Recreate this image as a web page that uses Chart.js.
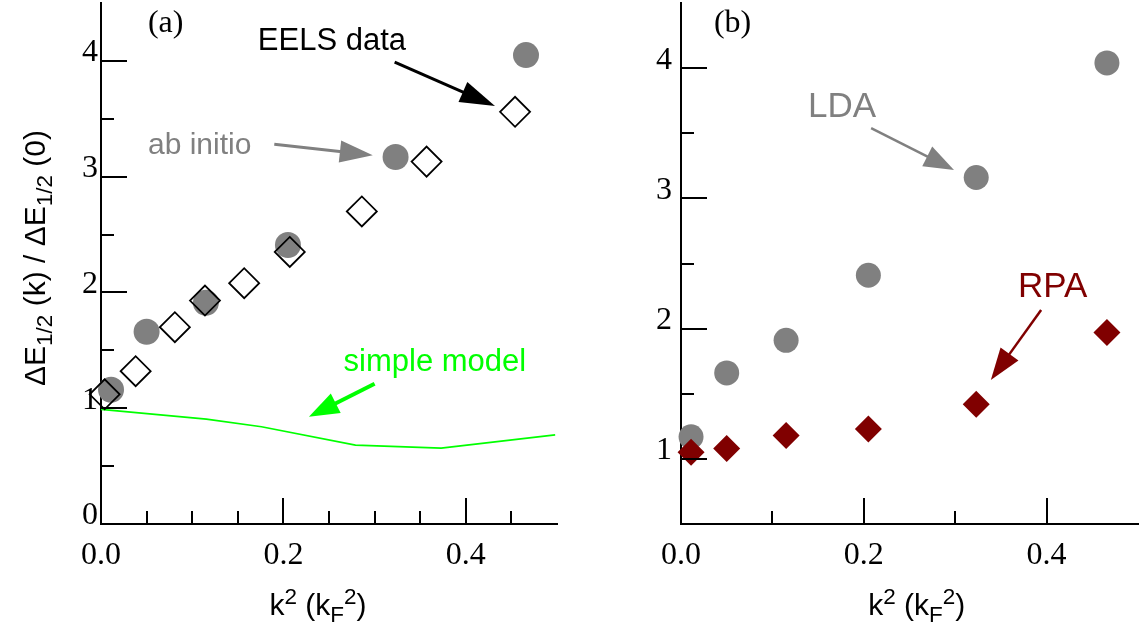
<!DOCTYPE html>
<html><head><meta charset="utf-8">
<script src="https://cdn.jsdelivr.net/npm/chart.js@4.4.1/dist/chart.umd.min.js"></script>
<style>
html,body{margin:0;padding:0;background:#fff;width:1143px;height:626px;overflow:hidden}
canvas{position:absolute;top:0}
#ca{left:0}
#cb{left:620px}
</style></head><body>
<canvas id="ca" width="620" height="626"></canvas>
<canvas id="cb" width="523" height="626"></canvas>
<script>
// ---- data ----
const kSqEels = [0.004, 0.038, 0.081, 0.114, 0.157, 0.207, 0.286, 0.357, 0.454];
const ratioEels = [1.12, 1.32, 1.70, 1.93, 2.08, 2.35, 2.70, 3.13, 3.56];
const kSqTheory = [0.011, 0.050, 0.115, 0.205, 0.323, 0.466];
const ratioAbInitio = [1.16, 1.66, 1.91, 2.41, 3.17, 4.05];
const ratioLDA = [1.17, 1.66, 1.91, 2.41, 3.16, 4.04];
const ratioRPA = [1.05, 1.08, 1.18, 1.23, 1.42, 1.97];
const kSqModel = [0, 0.1155, 0.176, 0.279, 0.373, 0.498];
const ratioModel = [0.99, 0.906, 0.84, 0.681, 0.655, 0.77];
const xTickValues = [0, 0.2, 0.4];
const yTickValuesA = [0, 1, 2, 3, 4];
const yTickValuesB = [1, 2, 3, 4];

const GRAY = '#808080', DRED = '#800000', GREEN = '#00ff00';
const SANS = '"Liberation Sans", Arial, sans-serif';
const SERIF = '"Liberation Serif", "Times New Roman", serif';

function pts(xs, ys) { return xs.map((x, i) => ({x: x, y: ys[i]})); }

function line(ctx, x1, y1, x2, y2) { ctx.beginPath(); ctx.moveTo(x1, y1); ctx.lineTo(x2, y2); ctx.stroke(); }

function arrow(ctx, x1, y1, x2, y2, color, lw, hl, hw) {
  const a = Math.atan2(y2 - y1, x2 - x1);
  const bx = x2 - hl * Math.cos(a), by = y2 - hl * Math.sin(a);
  ctx.strokeStyle = color; ctx.lineWidth = lw; ctx.lineCap = 'butt';
  line(ctx, x1, y1, bx + 2 * Math.cos(a), by + 2 * Math.sin(a));
  ctx.fillStyle = color;
  ctx.beginPath();
  ctx.moveTo(x2, y2);
  ctx.lineTo(bx + hw / 2 * Math.sin(a), by - hw / 2 * Math.cos(a));
  ctx.lineTo(bx - hw / 2 * Math.sin(a), by + hw / 2 * Math.cos(a));
  ctx.closePath(); ctx.fill();
}

function drawRich(ctx, segs, x, y, size, fam, align, color) {
  const small = size * 0.75;
  let total = 0;
  const ws = segs.map(s => { ctx.font = ((s.sub || s.sup) ? small : size) + 'px ' + fam; const w = ctx.measureText(s.t).width; total += w; return w; });
  let cx = align === 'center' ? x - total / 2 : x;
  ctx.fillStyle = color; ctx.textBaseline = 'alphabetic'; ctx.textAlign = 'left';
  segs.forEach((s, i) => {
    ctx.font = ((s.sub || s.sup) ? small : size) + 'px ' + fam;
    const dy = s.sub ? size * 0.24 : (s.sup ? -size * 0.36 : 0);
    ctx.fillText(s.t, cx, y + dy);
    cx += ws[i];
  });
}

const xTitle = [{t: 'k'}, {t: '2', sup: true}, {t: ' (k'}, {t: 'F', sub: true}, {t: '2', sup: true}, {t: ')'}];
const yTitle = [{t: '\u0394E'}, {t: '1/2', sub: true}, {t: ' (k) / \u0394E'}, {t: '1/2', sub: true}, {t: ' (0)'}];

const deco = {
  id: 'deco',
  afterDraw(chart) {
    const o = chart.options.plugins.deco;
    const ctx = chart.ctx, xs = chart.scales.x, ys = chart.scales.y;
    const L = chart.chartArea.left, B = chart.chartArea.bottom;
    ctx.save();
    ctx.strokeStyle = '#000'; ctx.lineWidth = 2; ctx.lineCap = 'butt';
    o.yMajor.forEach(v => { const y = Math.round(ys.getPixelForValue(v)); line(ctx, L, y, L + 26, y); });
    o.yMinor.forEach(v => { const y = Math.round(ys.getPixelForValue(v)); line(ctx, L, y, L + 13, y); });
    o.xMajor.forEach(v => { const x = Math.round(xs.getPixelForValue(v)); line(ctx, x, B, x, B - 26); });
    o.xMinor.forEach(v => { const x = Math.round(xs.getPixelForValue(v)); line(ctx, x, B, x, B - 13); });
    o.arrows.forEach(a => arrow(ctx, xs.getPixelForValue(a.from[0]), ys.getPixelForValue(a.from[1]),
      xs.getPixelForValue(a.to[0]), ys.getPixelForValue(a.to[1]), a.color, a.lw, a.hl, a.hw));
    o.texts.forEach(t => {
      ctx.font = t.size + 'px ' + t.fam; ctx.fillStyle = t.color; ctx.textAlign = 'left'; ctx.textBaseline = 'alphabetic';
      ctx.fillText(t.text, xs.getPixelForValue(t.at[0]), ys.getPixelForValue(t.at[1]));
    });
    drawRich(ctx, xTitle, xs.getPixelForValue(o.xTitleAt), B + 91, 30, SANS, 'center', '#000');
    if (o.yTitle) {
      ctx.save(); ctx.translate(45, 258); ctx.rotate(-Math.PI / 2);
      drawRich(ctx, yTitle, 0, 0, 30, SANS, 'center', '#000');
      ctx.restore();
    }
    ctx.restore();
  }
};

function scales(ymin, yTicks, yWidth, yPad) {
  return {
    x: {
      type: 'linear', min: 0, max: 0.5,
      afterFit: s => { s.height = 102; s.paddingLeft = 0; s.paddingRight = 0; },
      afterBuildTicks: s => { s.ticks = xTickValues.map(v => ({value: v})); },
      grid: {display: false, drawTicks: false},
      border: {display: true, color: '#000', width: 2},
      ticks: {font: {family: SERIF, size: 32}, color: '#000', padding: 12, maxRotation: 0, autoSkip: false,
        callback: v => Number(v).toFixed(1)}
    },
    y: {
      type: 'linear', min: ymin, max: 4.5,
      afterFit: s => { s.width = yWidth; s.paddingTop = 0; s.paddingBottom = 0; },
      afterBuildTicks: s => { s.ticks = yTicks.map(v => ({value: v})); },
      grid: {display: false, drawTicks: false},
      border: {display: true, color: '#000', width: 2},
      ticks: {font: {family: SERIF, size: 32}, color: '#000', padding: yPad, labelOffset: -8, autoSkip: false,
        callback: v => String(Math.round(v))}
    }
  };
}

const common = {responsive: false, animation: false, devicePixelRatio: 1};

new Chart(document.getElementById('ca'), {
  type: 'scatter',
  data: {datasets: [
    {label: 'EELS data', data: pts(kSqEels, ratioEels), order: 0, clip: false,
      pointStyle: 'rectRot', pointRadius: 15, backgroundColor: 'rgba(0,0,0,0)', borderColor: '#000', borderWidth: 1.8},
    {label: 'ab initio', data: pts(kSqTheory, ratioAbInitio), order: 1, clip: false,
      pointStyle: 'circle', pointRadius: 13, backgroundColor: GRAY, borderWidth: 0},
    {label: 'simple model', data: pts(kSqModel, ratioModel), order: 2, clip: false, showLine: true,
      borderColor: GREEN, borderWidth: 1.6, pointRadius: 0, tension: 0, fill: false}
  ]},
  options: Object.assign({}, common, {
    layout: {autoPadding: false, padding: {left: 0, right: 63, top: 3, bottom: 0}},
    scales: scales(0, yTickValuesA, 101, 3),
    plugins: {legend: {display: false}, tooltip: {enabled: false},
      deco: {
        yMajor: [1, 2, 3, 4], yMinor: [0.5, 1.5, 2.5, 3.5],
        xMajor: [0.2, 0.4], xMinor: [0.05, 0.1, 0.15, 0.25, 0.3, 0.35, 0.45],
        xTitleAt: 0.238, yTitle: true,
        arrows: [
          {from: [0.322, 3.99], to: [0.432, 3.61], color: '#000', lw: 3, hl: 35, hw: 22},
          {from: [0.19, 3.28], to: [0.298, 3.186], color: GRAY, lw: 3, hl: 33, hw: 22},
          {from: [0.30, 1.212], to: [0.228, 0.926], color: GREEN, lw: 4, hl: 30, hw: 22}
        ],
        texts: [
          {text: '(a)', at: [0.0515, 4.251], size: 32, fam: SERIF, color: '#000'},
          {text: 'EELS data', at: [0.172, 4.095], size: 31, fam: SANS, color: '#000'},
          {text: 'ab initio', at: [0.0515, 3.195], size: 30, fam: SANS, color: GRAY},
          {text: 'simple model', at: [0.266, 1.325], size: 31, fam: SANS, color: GREEN}
        ]
      }}
  }),
  plugins: [deco]
});

new Chart(document.getElementById('cb'), {
  type: 'scatter',
  data: {datasets: [
    {label: 'RPA', data: pts(kSqTheory, ratioRPA), order: 0, clip: false,
      pointStyle: 'rectRot', pointRadius: 13.5, backgroundColor: DRED, borderWidth: 0},
    {label: 'LDA', data: pts(kSqTheory, ratioLDA), order: 1, clip: false,
      pointStyle: 'circle', pointRadius: 12.5, backgroundColor: GRAY, borderWidth: 0}
  ]},
  options: Object.assign({}, common, {
    layout: {autoPadding: false, padding: {left: 0, right: 5, top: 3, bottom: 0}},
    scales: scales(0.5, yTickValuesB, 61, 9),
    plugins: {legend: {display: false}, tooltip: {enabled: false},
      deco: {
        yMajor: [1, 2, 3, 4], yMinor: [1.5, 2.5, 3.5],
        xMajor: [0.2, 0.4], xMinor: [0.1, 0.3],
        xTitleAt: 0.258, yTitle: false,
        arrows: [
          {from: [0.208, 3.54], to: [0.2987, 3.218], color: GRAY, lw: 2.5, hl: 30, hw: 22},
          {from: [0.394, 2.143], to: [0.339, 1.6056], color: DRED, lw: 2.5, hl: 32, hw: 22}
        ],
        texts: [
          {text: '(b)', at: [0.036, 4.277], size: 32, fam: SERIF, color: '#000'},
          {text: 'LDA', at: [0.139, 3.625], size: 35, fam: SANS, color: GRAY},
          {text: 'RPA', at: [0.3687, 2.243], size: 35, fam: SANS, color: DRED}
        ]
      }}
  }),
  plugins: [deco]
});
</script>
</body></html>
